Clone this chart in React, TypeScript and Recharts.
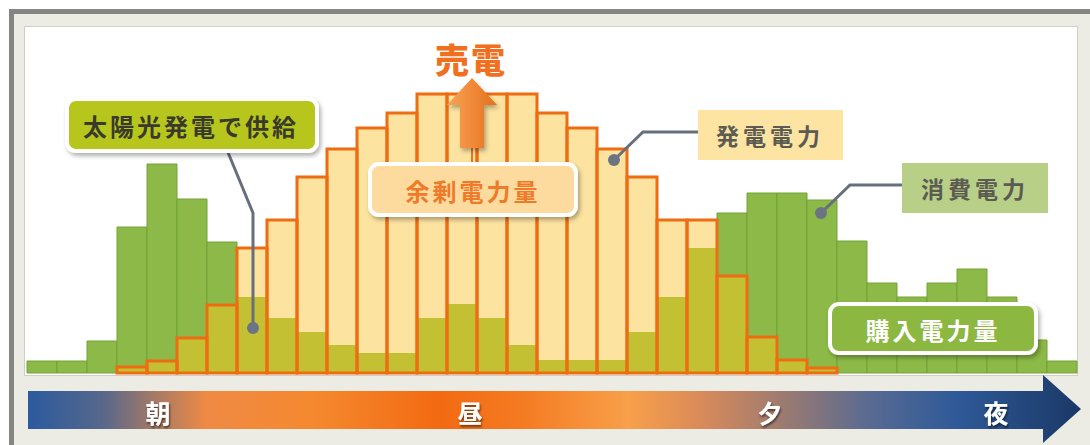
import React from "react";
import { BarChart, Bar, XAxis, YAxis } from "recharts";

// 35 time slots across one day (morning → noon → evening → night)
const slots = [
  "s01", "s02", "s03", "s04", "s05", "s06", "s07", "s08", "s09", "s10",
  "s11", "s12", "s13", "s14", "s15", "s16", "s17", "s18", "s19", "s20",
  "s21", "s22", "s23", "s24", "s25", "s26", "s27", "s28", "s29", "s30",
  "s31", "s32", "s33", "s34", "s35",
];

// 消費電力 (consumption)
const consumption = [
  12, 12, 32, 146, 209, 174, 131, 76, 55, 41,
  28, 20, 20, 55, 69, 55, 28, 13, 13, 13,
  41, 76, 125, 160, 180, 180, 173, 132, 90, 76,
  90, 104, 76, 33, 12,
];

// 発電電力 (solar generation)
const generation = [
  0, 0, 0, 6, 12, 35, 68, 125, 153, 196,
  224, 245, 260, 279, 279, 279, 279, 260, 245, 224,
  196, 153, 153, 97, 36, 13, 5, 0, 0, 0,
  0, 0, 0, 0, 0,
];

const timeLabels = ["朝", "昼", "夕", "夜"];

const data = slots.map((s, i) => ({
  slot: s,
  consumption: consumption[i],
  generation: generation[i],
  overlap: Math.min(consumption[i], generation[i]),
}));

const FONT = "'Noto Sans CJK JP', 'Noto Sans', sans-serif";

const Overlay = () => (
  <svg
    width={1090}
    height={445}
    style={{ position: "absolute", left: 0, top: 0, pointerEvents: "none" }}
  >
    <defs>
      <linearGradient id="timeGrad" x1={28} x2={1081} y1={0} y2={0} gradientUnits="userSpaceOnUse">
        <stop offset="0" stopColor="#2b5a9e" />
        <stop offset="0.07" stopColor="#56678c" />
        <stop offset="0.12" stopColor="#a47a66" />
        <stop offset="0.17" stopColor="#ef8a44" />
        <stop offset="0.27" stopColor="#f5892f" />
        <stop offset="0.39" stopColor="#f26a12" />
        <stop offset="0.47" stopColor="#f47b22" />
        <stop offset="0.57" stopColor="#f8a04a" />
        <stop offset="0.64" stopColor="#d98a5a" />
        <stop offset="0.72" stopColor="#9a7a72" />
        <stop offset="0.80" stopColor="#586a92" />
        <stop offset="0.88" stopColor="#2f5a98" />
        <stop offset="1" stopColor="#1a3866" />
      </linearGradient>
      <linearGradient id="upGrad" x1={0} x2={1} y1={0} y2={0}>
        <stop offset="0" stopColor="#f7a458" />
        <stop offset="0.5" stopColor="#f08a38" />
        <stop offset="1" stopColor="#e2701c" />
      </linearGradient>
      <filter id="shadow" x="-10%" y="-20%" width="130%" height="160%">
        <feDropShadow dx="2" dy="3" stdDeviation="2" floodColor="#000" floodOpacity="0.3" />
      </filter>
      <filter id="txtShadow" x="-20%" y="-20%" width="150%" height="150%">
        <feDropShadow dx="1" dy="2" stdDeviation="1" floodColor="#000" floodOpacity="0.55" />
      </filter>
    </defs>

    {/* time arrow */}
    <polygon
      points="28,391 1043,391 1043,375 1081,409 1043,443 1043,429 28,429"
      fill="url(#timeGrad)"
    />
    {timeLabels.map((t, i) => (
      <text
        key={t}
        x={[158, 470, 770, 996][i]}
        y={412}
        textAnchor="middle"
        dominantBaseline="central"
        fontFamily={FONT}
        fontWeight={700}
        fontSize={25}
        fill="#ffffff"
        filter="url(#txtShadow)"
      >
        {t}
      </text>
    ))}

    {/* 売電 arrow and label */}
    <line x1={472} y1={146} x2={472} y2={166} stroke="#e87420" strokeWidth={2} />
    <polygon
      points="472,78 497,105 484,105 484,148 460,148 460,105 447,105"
      fill="url(#upGrad)"
      filter="url(#shadow)"
    />
    <text
      x={471}
      y={58}
      textAnchor="middle"
      dominantBaseline="central"
      fontFamily={FONT}
      fontWeight={900}
      fontSize={34}
      letterSpacing={2}
      fill="#f07020"
      stroke="#ffffff"
      strokeWidth={3}
      paintOrder="stroke"
    >
      売電
    </text>

    {/* 余剰電力量 */}
    <g filter="url(#shadow)">
      <rect x={370} y={164} width={206} height={51} rx={9} fill="#fddb9e" stroke="#ffffff" strokeWidth={4} />
    </g>
    <text
      x={473}
      y={190}
      textAnchor="middle"
      dominantBaseline="central"
      fontFamily={FONT}
      fontWeight={700}
      fontSize={24}
      letterSpacing={3}
      fill="#ee7a2a"
    >
      余剰電力量
    </text>

    {/* 太陽光発電で供給 */}
    <path d="M 227 150 L 253 213 L 253 328" fill="none" stroke="#676f7c" strokeWidth={3} />
    <circle cx={253} cy={328} r={6} fill="#6c7484" />
    <g filter="url(#shadow)">
      <rect x={67} y={99} width={250} height={52} rx={9} fill="#b7c61c" stroke="#ffffff" strokeWidth={4} />
    </g>
    <text
      x={191}
      y={125}
      textAnchor="middle"
      dominantBaseline="central"
      fontFamily={FONT}
      fontWeight={700}
      fontSize={24}
      letterSpacing={3}
      fill="#3a3a2c"
    >
      太陽光発電で供給
    </text>

    {/* 発電電力 */}
    <path d="M 614 160 L 643 132 L 698 132" fill="none" stroke="#676f7c" strokeWidth={3} />
    <circle cx={614} cy={160} r={6} fill="#6c7484" />
    <rect x={698} y={110} width={145} height={50} fill="#fde4a2" />
    <text
      x={770}
      y={135}
      textAnchor="middle"
      dominantBaseline="central"
      fontFamily={FONT}
      fontWeight={700}
      fontSize={23}
      letterSpacing={4}
      fill="#5b5b52"
    >
      発電電力
    </text>

    {/* 消費電力 */}
    <path d="M 821 213 L 850 185 L 902 185" fill="none" stroke="#676f7c" strokeWidth={3} />
    <circle cx={821} cy={213} r={6} fill="#6c7484" />
    <rect x={902} y={163} width={146} height={50} fill="#b8cf88" />
    <text
      x={975}
      y={188}
      textAnchor="middle"
      dominantBaseline="central"
      fontFamily={FONT}
      fontWeight={700}
      fontSize={23}
      letterSpacing={4}
      fill="#5b5b52"
    >
      消費電力
    </text>

    {/* 購入電力量 */}
    <g filter="url(#shadow)">
      <rect x={830} y={304} width={206} height={49} rx={9} fill="#8cb843" stroke="#ffffff" strokeWidth={4} />
    </g>
    <text
      x={933}
      y={329}
      textAnchor="middle"
      dominantBaseline="central"
      fontFamily={FONT}
      fontWeight={700}
      fontSize={24}
      letterSpacing={3}
      fill="#ffffff"
    >
      購入電力量
    </text>
  </svg>
);

export default function App() {
  return (
    <div
      style={{
        position: "fixed",
        left: 0,
        top: 0,
        width: 1090,
        height: 445,
        background: "#ffffff",
        overflow: "hidden",
        fontFamily: FONT,
      }}
    >
      {/* outer frame */}
      <div
        style={{
          position: "absolute",
          left: 9,
          top: 9,
          width: 1100,
          height: 460,
          border: "5px solid #858585",
          background: "#edece4",
          boxSizing: "border-box",
        }}
      />
      {/* inner white panel */}
      <div
        style={{
          position: "absolute",
          left: 24,
          top: 26,
          width: 1054,
          height: 350,
          background: "#ffffff",
          border: "1px solid #cfcfc6",
          boxSizing: "border-box",
        }}
      />
      <div style={{ position: "absolute", left: 0, top: 0 }}>
        <BarChart
          width={1090}
          height={445}
          data={data}
          margin={{ top: 28, right: 13, bottom: 72, left: 27 }}
          barCategoryGap={0}
          barGap={0}
        >
          <XAxis xAxisId="a" dataKey="slot" hide />
          <XAxis xAxisId="b" dataKey="slot" hide />
          <XAxis xAxisId="c" dataKey="slot" hide />
          <XAxis xAxisId="d" dataKey="slot" hide />
          <YAxis domain={[0, 345]} hide />
          <Bar
            xAxisId="a"
            dataKey="consumption"
            fill="#8cb947"
            stroke="#73a236"
            strokeWidth={1}
            isAnimationActive={false}
          />
          <Bar
            xAxisId="b"
            dataKey="generation"
            fill="#fde3a0"
            isAnimationActive={false}
          />
          <Bar
            xAxisId="c"
            dataKey="overlap"
            fill="#c4c033"
            isAnimationActive={false}
          />
          <Bar
            xAxisId="d"
            dataKey="generation"
            fill="none"
            stroke="#ee6c12"
            strokeWidth={3}
            isAnimationActive={false}
          />
        </BarChart>
      </div>
      <Overlay />
    </div>
  );
}
